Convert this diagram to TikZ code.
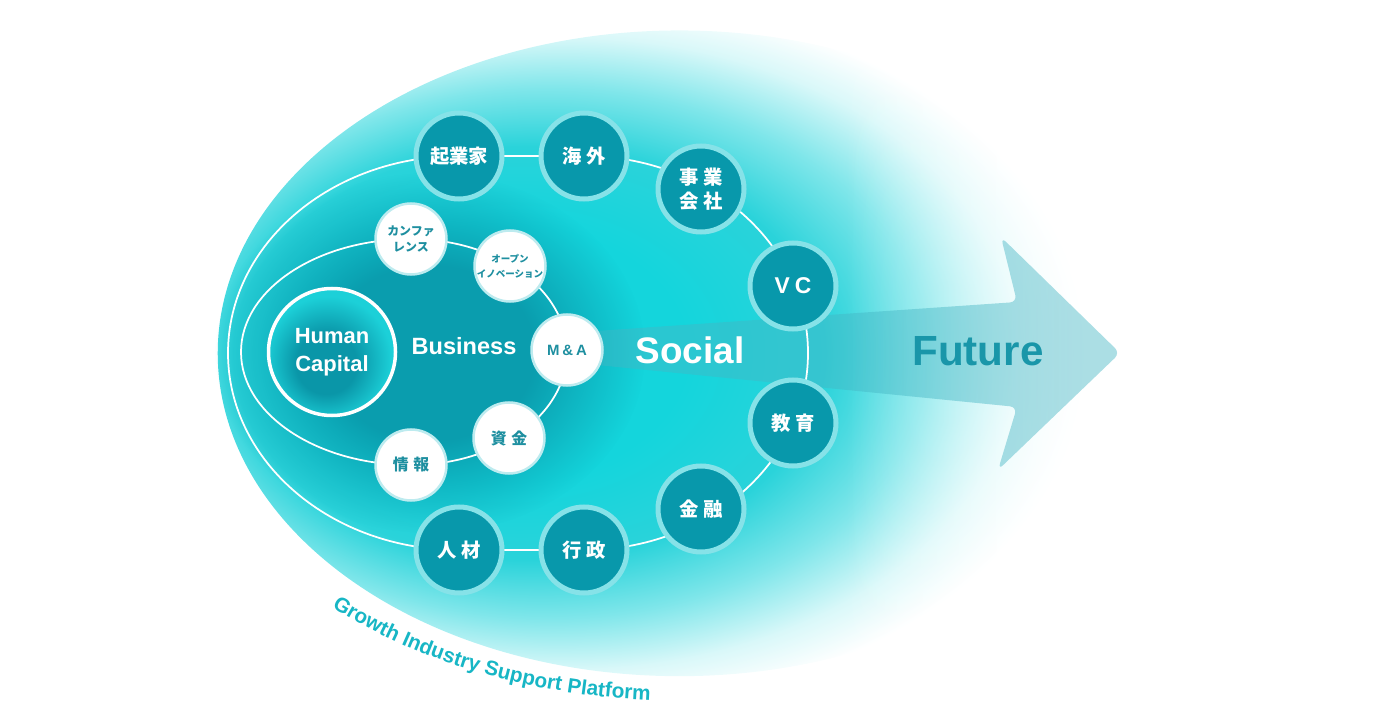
\documentclass[tikz,border=0pt]{standalone}
\usepackage{fontspec}
\setmainfont{Liberation Sans}
\newfontfamily\jpfont{Noto Sans CJK JP}
\usepackage{tikz}
\usetikzlibrary{fadings}
\usetikzlibrary{decorations.text}
\usepackage{xcolor}

\definecolor{eggcyan}{HTML}{14D5DC}
\definecolor{eggedge}{HTML}{2AD3DA}
\definecolor{eggmid}{HTML}{7FE6EA}
\definecolor{eggpale}{HTML}{D9F8F9}
\definecolor{darkregion}{HTML}{0A9DAE}
\definecolor{circdark}{HTML}{0898AB}
\definecolor{circring}{HTML}{86E2E8}
\definecolor{whitering}{HTML}{BDEBEF}
\definecolor{biztext}{HTML}{1E8FA0}
\definecolor{hcdark}{HTML}{0A96A8}
\definecolor{hclight}{HTML}{1CD0D8}
\definecolor{arrowcol}{HTML}{45B6C4}
\definecolor{futurecol}{HTML}{1996A9}
\definecolor{platcol}{HTML}{17B6C5}

\pgfdeclareradialshading{eggshade}{\pgfpoint{-12bp}{0bp}}{color(0bp)=(eggcyan); color(10bp)=(eggcyan); color(16bp)=(eggedge); color(20.5bp)=(eggmid); color(24.5bp)=(eggpale); color(27.5bp)=(white); color(50bp)=(white)}
\pgfdeclarehorizontalshading{eggfadeshade}{100bp}{color(0bp)=(white); color(59bp)=(white); color(75bp)=(black); color(100bp)=(black)}
\pgfdeclarefading{eggfade}{\pgfuseshading{eggfadeshade}}
\pgfdeclareradialshading{hcshade}{\pgfpoint{-3bp}{-6bp}}{color(0bp)=(hcdark); color(12bp)=(hcdark); color(25bp)=(hclight); color(50bp)=(hclight)}
\pgfdeclareradialshading{darkfadeshade}{\pgfpointorigin}{color(0bp)=(white); color(12bp)=(white); color(25bp)=(black); color(50bp)=(black)}
\pgfdeclarefading{darkfade}{\pgfuseshading{darkfadeshade}}

\newcommand{\jpwide}{\addfontfeature{LetterSpace=22}}

\pgfdeclarelayer{back}
\pgfdeclarelayer{lines}
\pgfsetlayers{back,lines,main}

\begin{document}
\begin{tikzpicture}[x=0.2mm,y=-0.2mm,
    socialnode/.style={circle,draw=circring,line width=1mm,fill=circdark,minimum size=17.2mm,inner sep=0pt,
      text=white,align=center,font=\jpfont\bfseries\fontsize{11}{14}\selectfont},
    biznode/.style={circle,draw=whitering,line width=0.5mm,fill=white,minimum size=14.2mm,inner sep=0pt,
      text=biztext,align=center,font=\jpfont\bfseries\fontsize{9}{11}\selectfont},
    ringline/.style={draw=white,line width=0.35mm},
    bigword/.style={text=white,font=\bfseries\fontsize{13.4}{16}\selectfont}]
  \useasboundingbox (0,0) rectangle (1376,723);

  % outer ring (social)
  \begin{scope}[every node/.style={socialnode}]
    \node (kigyoka) at (459,156) {起業家};
    \node (kaigai) at (584,156) {\jpwide 海外};
    \node (jigyo) at (701,189) {\jpwide 事業\\\jpwide 会社};
    \node[font=\bfseries\fontsize{13}{15}\selectfont] (vc) at (793,286) {V\hspace{0.22em}C};
    \node (kyoiku) at (793,423) {\jpwide 教育};
    \node (kinyu) at (701,509) {\jpwide 金融};
    \node (gyosei) at (584,550) {\jpwide 行政};
    \node (jinzai) at (459,550) {\jpwide 人材};
  \end{scope}

  % inner ring (business)
  \begin{scope}[every node/.style={biznode}]
    \node[font=\jpfont\bfseries\fontsize{6.8}{9.4}\selectfont] (conf) at (411,239) {カンファ\\レンス};
    \node[font=\jpfont\bfseries\fontsize{5.4}{8.5}\selectfont] (openinno) at (510,266) {オープン\\イノベーション};
    \node[font=\bfseries\fontsize{8.5}{10}\selectfont] (ma) at (567,350) {M\hspace{0.2em}\&\hspace{0.2em}A};
    \node (shikin) at (509,438) {\addfontfeature{LetterSpace=30}資金};
    \node (joho) at (411,465) {\addfontfeature{LetterSpace=30}情報};
  \end{scope}

  \node[circle,shade,shading=hcshade,draw=white,line width=0.7mm,minimum size=25.4mm,inner sep=0pt,
    text=white,align=center,font=\bfseries\fontsize{12.5}{16}\selectfont] (hc) at (332,352) {Human\\Capital};

  \node[bigword] (business) at (464,346) {Business};
  \node[bigword,font=\bfseries\fontsize{21}{24}\selectfont] (social) at (690,350) {Social};
  \node[text=futurecol,font=\bfseries\fontsize{24}{28}\selectfont] (future) at (978,351) {Future};

  \path[decorate,decoration={text along path,text align=left,
      text={|\color{platcol}\bfseries\fontsize{11.8}{12}\selectfont|Growth Industry Support Platform}}]
    (332,607) arc[start angle=133,end angle=76,x radius=510,y radius=349];

  \begin{pgfonlayer}{back}
    \shade[shading=eggshade,path fading=eggfade] (680,353) ellipse[x radius=462,y radius=323];
    \fill[darkregion,path fading=darkfade] (430,353) ellipse[x radius=215,y radius=180];
    \fill[arrowcol,fill opacity=0.45,rounded corners=4pt] (567,333) -- (1017,302) -- (1001,237) -- (1120,353)
      -- (998,470) -- (1017,407) -- (567,362) -- cycle;
  \end{pgfonlayer}

  \begin{pgfonlayer}{lines}
    \draw[ringline] (kigyoka.center) -- (kaigai.center)
      arc[start angle=-90,end angle=90,x radius=224,y radius=197] -- (jinzai.center)
      arc[start angle=90,end angle=270,x radius=231,y radius=197] -- cycle;
    \draw[ringline] (conf.center)
      arc[start angle=-90,end angle=90,x radius=156,y radius=113]
      arc[start angle=90,end angle=270,x radius=170,y radius=113];
  \end{pgfonlayer}
\end{tikzpicture}
\end{document}
